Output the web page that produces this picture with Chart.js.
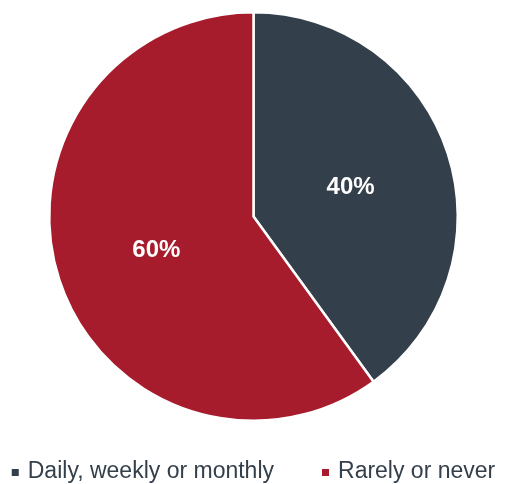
<!DOCTYPE html>
<html>
<head>
<meta charset="utf-8">
<script src="https://cdn.jsdelivr.net/npm/chart.js@4"></script>
<style>
  html, body { margin: 0; padding: 0; background: #fff; }
  #wrap { width: 507px; height: 484px; }
</style>
</head>
<body>
<div id="wrap"><canvas id="myChart" width="507" height="484"></canvas></div>
<script>
let labels = ["Daily, weekly or monthly", "Rarely or never"];
let values = [40, 60];
let colors = ["#333F4A", "#A71C2C"];

const FONT = '"Liberation Sans", Arial, sans-serif';

// white bold percentages in the middle of each slice
const sliceLabels = {
    id: 'sliceLabels',
    afterDatasetsDraw(chart) {
        let c = chart.ctx;
        let meta = chart.getDatasetMeta(0);
        let total = values.reduce((a, b) => a + b, 0);
        c.save();
        c.fillStyle = '#fff';
        c.font = 'bold 24px ' + FONT;
        c.textAlign = 'center';
        c.textBaseline = 'middle';
        meta.data.forEach((arc, i) => {
            let mid = (arc.startAngle + arc.endAngle) / 2;
            let r = arc.outerRadius * 0.5;
            c.fillText(Math.round(values[i] / total * 100) + '%', arc.x + Math.cos(mid) * r, arc.y + 2 + Math.sin(mid) * r);
        });
        c.restore();
    }
};

// legend under the pie: small squares, one row, centred
const bottomLegend = {
    id: 'bottomLegend',
    afterDraw(chart) {
        let c = chart.ctx;
        let box = 7, gap = 9, spacing = 48, y = 472;
        c.save();
        c.font = '23px ' + FONT;
        c.textBaseline = 'middle';
        let widths = labels.map(l => c.measureText(l).width);
        let total = widths.reduce((s, w) => s + box + gap + w, 0) + spacing * (labels.length - 1);
        let x = (chart.width - total) / 2;
        labels.forEach((l, i) => {
            c.fillStyle = colors[i];
            c.fillRect(x, y - 3, box, box);
            c.fillStyle = '#333F4A';
            c.fillText(l, x + box + gap, y);
            x += box + gap + widths[i] + spacing;
        });
        c.restore();
    }
};

const ctx = document.getElementById('myChart').getContext('2d');
let myChart = new Chart(ctx, {
    type: 'pie',
    data: {
        labels: labels,
        datasets: [{ data: values, backgroundColor: colors, borderColor: '#fff', borderWidth: 2.5 }]
    },
    options: {
        responsive: false,
        animation: false,
        layout: { padding: { top: 11, bottom: 62 } },
        plugins: {
            tooltip: { enabled: false },
            legend: { display: false }
        }
    },
    plugins: [sliceLabels, bottomLegend]
});
</script>
</body>
</html>
